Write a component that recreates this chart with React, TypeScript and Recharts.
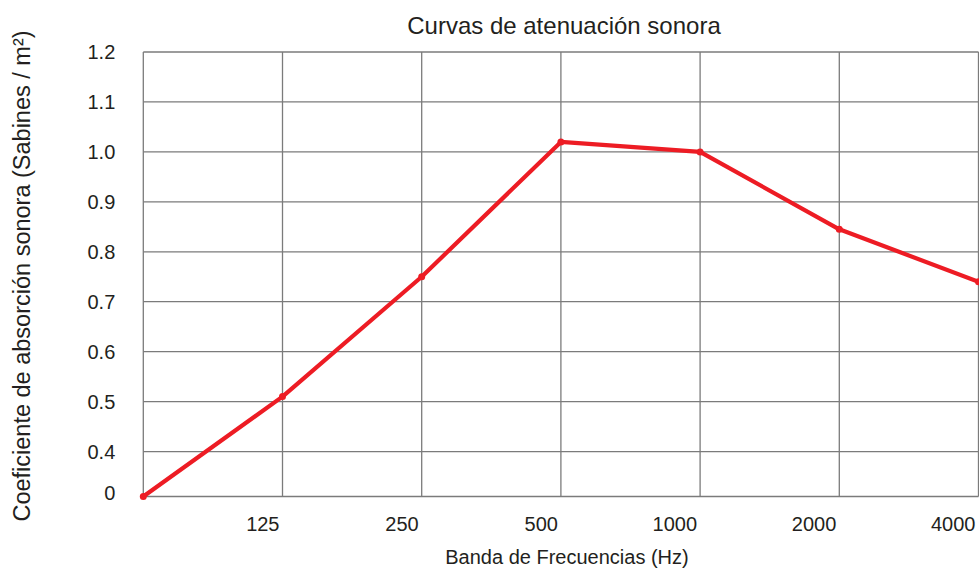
import { LineChart, Line, XAxis, YAxis, CartesianGrid } from 'recharts';

const W = 979;
const H = 574;

// frequency bands (the first column has no label)
const bands = ['', '125', '250', '500', '1000', '2000', '4000'];
const absorption = [0, 0.51, 0.75, 1.02, 1.0, 0.845, 0.74];
const yTicks = [0.31, 0.4, 0.5, 0.6, 0.7, 0.8, 0.9, 1.0, 1.1, 1.2];

// the y axis is broken under 0.4: "0" is drawn at this floor
const Y_FLOOR = 0.31;

const data = bands.map((band, i) => ({
  band,
  value: absorption[i] === 0 ? Y_FLOOR : absorption[i],
}));

const FONT = '"Liberation Sans", Arial, Helvetica, sans-serif';
const TEXT = '#231f20';
const GRID = '#7b7b7b';
const RED = '#ed1c24';

const XTick = ({ x, y, payload }: any) => (
  <text x={x - 3} y={y} dy="0.355em" textAnchor="end" fontSize={20} fill={TEXT} fontFamily={FONT}>
    {payload.value}
  </text>
);

const YTick = ({ x, y, payload }: any) => {
  const isFloor = payload.value === Y_FLOOR;
  return (
    <text
      x={x}
      y={isFloor ? y - 4 : y}
      dy="0.355em"
      textAnchor="end"
      fontSize={20}
      fill={TEXT}
      fontFamily={FONT}
    >
      {isFloor ? '0' : Number(payload.value).toFixed(1)}
    </text>
  );
};

export default function App() {
  return (
    <div style={{ position: 'absolute', left: 0, top: 0, width: W, height: H, background: '#fff' }}>
      <LineChart
        width={W}
        height={H}
        data={data}
        margin={{ top: 52, right: 0.5, bottom: 37.5, left: 0 }}
      >
        <CartesianGrid stroke={GRID} strokeWidth={1.3} horizontalValues={yTicks} />
        <XAxis
          dataKey="band"
          type="category"
          scale="point"
          padding={{ left: 0, right: 0 }}
          height={40}
          axisLine={false}
          tickLine={false}
          tickSize={0}
          tickMargin={27.5}
          interval={0}
          tick={<XTick />}
        />
        <YAxis
          type="number"
          domain={[Y_FLOOR, 1.2]}
          ticks={yTicks}
          width={143.3}
          axisLine={false}
          tickLine={false}
          tickSize={0}
          tickMargin={28}
          interval={0}
          tick={<YTick />}
        />
        <Line
          type="linear"
          dataKey="value"
          stroke={RED}
          strokeWidth={4.2}
          strokeLinejoin="round"
          dot={{ r: 3.5, fill: RED, stroke: 'none' }}
          activeDot={false}
          isAnimationActive={false}
        />
      </LineChart>
      <svg
        width={W}
        height={H}
        style={{ position: 'absolute', left: 0, top: 0, pointerEvents: 'none' }}
        fontFamily={FONT}
        fill={TEXT}
      >
        <text x={564} y={25} dy="0.355em" textAnchor="middle" fontSize={24}>
          Curvas de atenuación sonora
        </text>
        <text x={567} y={557} dy="0.355em" textAnchor="middle" fontSize={20}>
          Banda de Frecuencias (Hz)
        </text>
        <text
          x={22}
          y={276}
          dy="0.355em"
          textAnchor="middle"
          fontSize={23.5}
          transform="rotate(-90 22 276)"
        >
          Coeficiente de absorción sonora (Sabines / m²)
        </text>
      </svg>
    </div>
  );
}
